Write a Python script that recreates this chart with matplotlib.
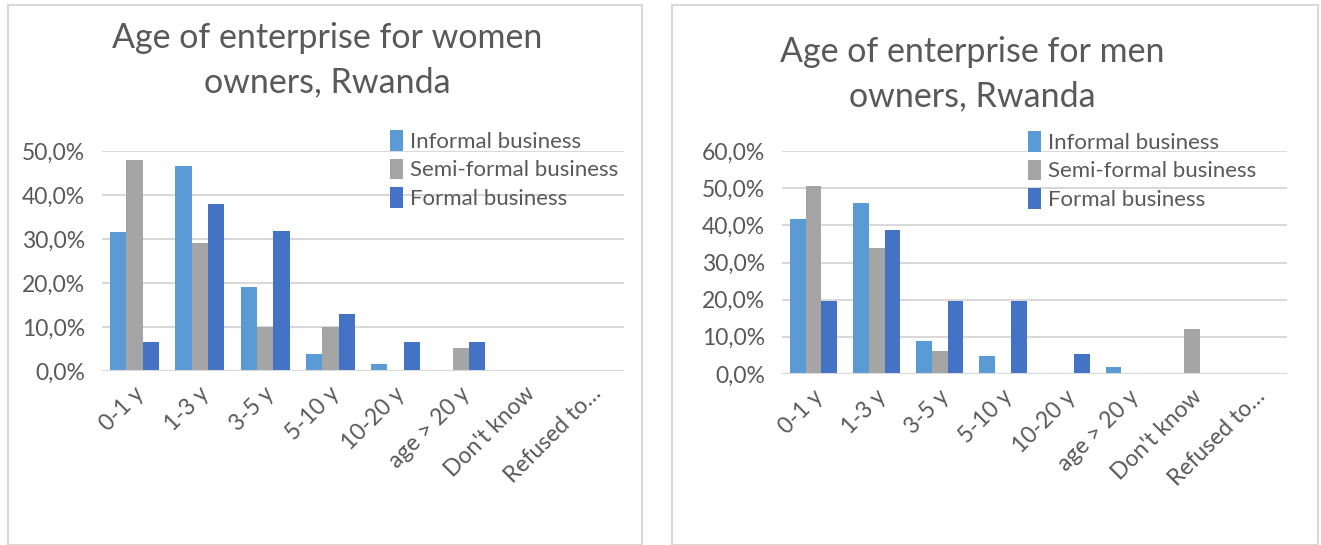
import matplotlib.pyplot as plt
import numpy as np
from matplotlib.patches import Rectangle
from matplotlib.ticker import FuncFormatter
from matplotlib.transforms import ScaledTranslation

categories = ["0-1 y", "1-3 y", "3-5 y", "5-10 y", "10-20 y", "age > 20 y", "Don't know", "Refused to…"]
series_names = ["Informal business", "Semi-formal business", "Formal business"]
colors = ["#5B9BD5", "#A5A5A5", "#4472C4"]

# shares in percent, one list per business type
women_informal = [31.5, 46.7, 19.1, 3.9, 1.7, 0.0, 0.0, 0.0]
women_semi = [48.0, 29.2, 10.0, 10.0, 0.0, 5.3, 0.0, 0.0]
women_formal = [6.7, 37.9, 31.8, 12.9, 6.7, 6.7, 0.0, 0.0]

men_informal = [41.6, 46.0, 8.9, 4.9, 0.0, 2.0, 0.0, 0.0]
men_semi = [50.7, 33.9, 6.3, 0.0, 0.0, 0.0, 12.0, 0.0]
men_formal = [19.6, 38.7, 19.6, 19.6, 5.5, 0.0, 0.0, 0.0]

TEXT = "#595959"
GRID = "#D9D9D9"
FONT = ["Lato", "DejaVu Sans"]

plt.rcParams["font.family"] = FONT

W, H = 1321, 545
fig = plt.figure(figsize=(W / 100, H / 100), dpi=100)


def px_box(x0, y0, x1, y1):
    # pixel box (top-left origin) -> figure fraction [left, bottom, width, height]
    return [x0 / W, 1 - y1 / H, (x1 - x0) / W, (y1 - y0) / H]


def draw_chart(ax_box, values, ymax, title, title_xy, legend_xy):
    ax = fig.add_axes(ax_box)
    x = np.arange(len(categories))
    bw = 0.25
    for i, (vals, name, c) in enumerate(zip(values, series_names, colors)):
        ax.bar(x + (i - 1) * bw, np.array(vals) / 100, bw, color=c, label=name,
               zorder=3, linewidth=0)
    ax.set_xlim(-0.5, len(categories) - 0.5)
    ax.set_ylim(0, ymax)
    ax.set_yticks(np.arange(0, ymax + 0.001, 0.1))
    ax.yaxis.set_major_formatter(FuncFormatter(lambda v, p: f"{v * 100:.1f}%".replace(".", ",")))
    ax.grid(axis="y", color=GRID, linewidth=1.5, zorder=0)
    ax.set_axisbelow(True)
    for s in ax.spines.values():
        s.set_visible(False)
    ax.tick_params(axis="both", length=0, labelsize=16.5, labelcolor=TEXT)
    ax.tick_params(axis="y", pad=12)
    ax.set_xticks(x)
    ax.set_xticklabels(categories, rotation=45, ha="right", va="center", rotation_mode="anchor")
    ax.tick_params(axis="x", pad=14)
    shift = ScaledTranslation(6 / 100, 0, fig.dpi_scale_trans)
    for lbl in ax.get_xticklabels():
        lbl.set_transform(lbl.get_transform() + shift)
    ax.axhline(0, color=GRID, linewidth=1.5, zorder=4)

    fig.text(title_xy[0] / W, 1 - title_xy[1] / H, title, ha="center", va="center",
             fontsize=24.5, color=TEXT, linespacing=1.45)
    ax.legend(loc="upper left", bbox_to_anchor=(legend_xy[0] / W, 1 - legend_xy[1] / H),
              bbox_transform=fig.transFigure, frameon=False, fontsize=16,
              labelcolor=TEXT, handlelength=0.6, handleheight=1.05, handletextpad=0.3,
              labelspacing=0.3, borderpad=0, borderaxespad=0)
    return ax


draw_chart(px_box(102, 151, 624, 371), [women_informal, women_semi, women_formal], 0.5,
           "Age of enterprise for women\nowners, Rwanda", (327, 60), (390, 130))
draw_chart(px_box(782, 151, 1287, 374), [men_informal, men_semi, men_formal], 0.6,
           "Age of enterprise for men\nowners, Rwanda", (972, 74), (1028, 131))

# panel frames
for x0, x1 in [(8, 642), (672, 1318)]:
    fig.add_artist(Rectangle((x0 / W, 0), (x1 - x0) / W, 1 - 5 / H, transform=fig.transFigure,
                             fill=False, edgecolor="#D9D9D9", linewidth=1.5, clip_on=False))

fig.savefig("out.png", dpi=100)
